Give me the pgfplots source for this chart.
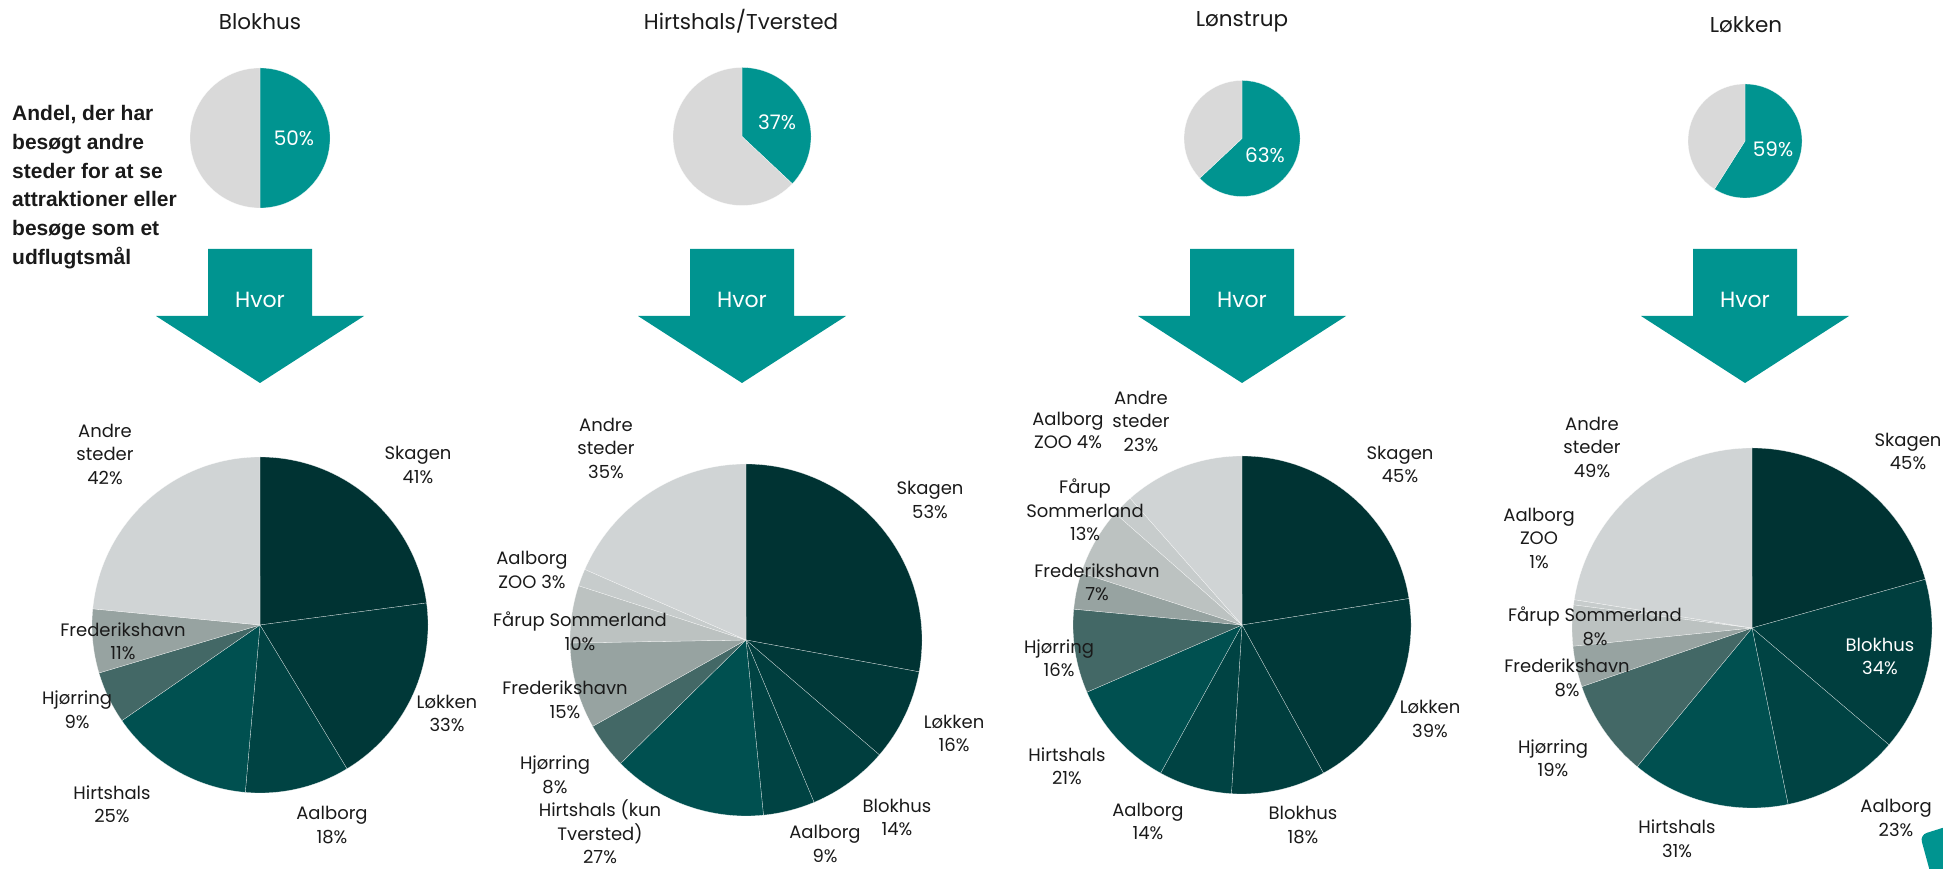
\documentclass[border=0pt]{standalone}
\usepackage{fontspec}
\setmainfont{Poppins}
\newfontfamily\blockfont{Liberation Sans}
\usepackage{pgfplots}
\usepackage{pgfplotstable}
\pgfplotsset{compat=1.18}

\definecolor{tealS}{HTML}{009490}
\definecolor{grayS}{HTML}{D9D9D9}
\definecolor{cSk}{HTML}{003333}
\definecolor{cLk}{HTML}{003838}
\definecolor{cBl}{HTML}{003E3E}
\definecolor{cAa}{HTML}{004343}
\definecolor{cHi}{HTML}{005050}
\definecolor{cHj}{HTML}{436866}
\definecolor{cFr}{HTML}{97A3A1}
\definecolor{cFa}{HTML}{BCC2C1}
\definecolor{cZo}{HTML}{C7CCCC}
\definecolor{cAn}{HTML}{D0D4D5}
\definecolor{txt}{HTML}{1A1A1A}

% small pies: share that has visited other places
\pgfplotstableread{
value color
50 tealS
50 grayS
}\smallBlokhus
\pgfplotstableread{
value color
37 tealS
63 grayS
}\smallHirtshals
\pgfplotstableread{
value color
63 tealS
37 grayS
}\smallLonstrup
\pgfplotstableread{
value color
59 tealS
41 grayS
}\smallLokken

% big pies: where
\pgfplotstableread{
value color
41 cSk
33 cLk
18 cAa
25 cHi
9 cHj
11 cFr
42 cAn
}\bigBlokhus
\pgfplotstableread{
value color
53 cSk
16 cLk
14 cBl
9 cAa
27 cHi
8 cHj
15 cFr
10 cFa
3 cZo
35 cAn
}\bigHirtshals
\pgfplotstableread{
value color
45 cSk
39 cLk
18 cBl
14 cAa
21 cHi
16 cHj
7 cFr
13 cFa
4 cZo
23 cAn
}\bigLonstrup
\pgfplotstableread{
value color
45 cSk
34 cBl
23 cAa
31 cHi
19 cHj
8 cFr
8 cFa
1 cZo
49 cAn
}\bigLokken

\newcommand\drawpie[4]{% #1 table, #2 cx, #3 cy, #4 r
  \pgfplotstablegetrowsof{#1}%
  \pgfmathtruncatemacro\pierows{\pgfplotsretval-1}%
  \gdef\pietotal{0}%
  \foreach \i in {0,...,\pierows}{%
    \pgfplotstablegetelem{\i}{value}\of#1%
    \pgfmathsetmacro\tmpa{\pietotal+\pgfplotsretval}%
    \xdef\pietotal{\tmpa}%
  }%
  \gdef\pieangle{90}%
  \foreach \i in {0,...,\pierows}{%
    \pgfplotstablegetelem{\i}{value}\of#1%
    \pgfmathsetmacro\pieend{\pieangle-360*(\pgfplotsretval/\pietotal)}%
    \pgfplotstablegetelem{\i}{color}\of#1%
    \edef\piecol{\pgfplotsretval}%
    \pgfmathsetmacro\px{#2+#4*cos(\pieangle)}%
    \pgfmathsetmacro\py{#3+#4*sin(\pieangle)}%
    \edef\tmp{\noexpand\fill[fill=\piecol, draw=white, draw opacity=0.7, line width=0.3pt, line join=round] (axis cs:#2,#3) -- (axis cs:\px,\py) arc[start angle=\pieangle, end angle=\pieend, radius=#4pt] -- cycle;}%
    \tmp
    \xdef\pieangle{\pieend}%
  }%
}

\begin{document}
\begin{tikzpicture}[
  lab/.style={font=\fontsize{18}{23.5}\selectfont, align=center, inner sep=0pt, text=txt},
  ttl/.style={font=\fontsize{21.5}{26}\selectfont, inner sep=0pt, text=txt},
  pct/.style={font=\fontsize{20}{24}\selectfont, inner sep=0pt, text=white},
  hvor/.style={font=\fontsize{22}{26}\selectfont, inner sep=0pt, text=white}]
\begin{axis}[name=ax, x=1pt, y=1pt, xmin=0, xmax=1943, ymin=0, ymax=869,
  hide axis, clip=false]

% titles
\node[ttl] at (axis cs:260,847) {Blokhus};
\node[ttl] at (axis cs:741,848) {Hirtshals/Tversted};
\node[ttl] at (axis cs:1242,847) {Lønstrup};
\node[ttl] at (axis cs:1746,844) {Løkken};

% explanatory text
\node[anchor=west, align=left, inner sep=0pt, text=txt, font={\blockfont\bfseries\fontsize{21}{28.7}\selectfont}] at (axis cs:12,682) {Andel, der har\\besøgt andre\\steder for at se\\attraktioner eller\\besøge som et\\udflugtsmål};

% small pies
\drawpie{\smallBlokhus}{260}{731}{70}
\drawpie{\smallHirtshals}{742}{732.5}{69}
\drawpie{\smallLonstrup}{1242}{730.5}{58}
\drawpie{\smallLokken}{1745}{728}{57}
\node[pct] at (axis cs:294,731) {50\%};
\node[pct] at (axis cs:777,747) {37\%};
\node[pct] at (axis cs:1265,714) {63\%};
\node[pct] at (axis cs:1773,720) {59\%};

% arrows
\fill[tealS] (axis cs:208,620) -- (axis cs:312,620) -- (axis cs:312,553) -- (axis cs:364,553) -- (axis cs:260,486) -- (axis cs:156,553) -- (axis cs:208,553) -- cycle;
\fill[tealS] (axis cs:690,620) -- (axis cs:794,620) -- (axis cs:794,553) -- (axis cs:846,553) -- (axis cs:742,486) -- (axis cs:638,553) -- (axis cs:690,553) -- cycle;
\fill[tealS] (axis cs:1190,620) -- (axis cs:1294,620) -- (axis cs:1294,553) -- (axis cs:1346,553) -- (axis cs:1242,486) -- (axis cs:1138,553) -- (axis cs:1190,553) -- cycle;
\fill[tealS] (axis cs:1693,620) -- (axis cs:1797,620) -- (axis cs:1797,553) -- (axis cs:1849,553) -- (axis cs:1745,486) -- (axis cs:1641,553) -- (axis cs:1693,553) -- cycle;
\node[hvor] at (axis cs:260,569) {Hvor};
\node[hvor] at (axis cs:742,569) {Hvor};
\node[hvor] at (axis cs:1242,569) {Hvor};
\node[hvor] at (axis cs:1745,569) {Hvor};

% big pies
\drawpie{\bigBlokhus}{260}{244}{168}
\drawpie{\bigHirtshals}{746}{229}{176}
\drawpie{\bigLonstrup}{1242}{244}{169}
\drawpie{\bigLokken}{1752}{241}{180}

% labels Blokhus
\node[lab] at (axis cs:105,415) {Andre\\steder\\42\%};
\node[lab] at (axis cs:418,404) {Skagen\\41\%};
\node[lab] at (axis cs:447,155.5) {Løkken\\33\%};
\node[lab] at (axis cs:332,44) {Aalborg\\18\%};
\node[lab] at (axis cs:112,64.5) {Hirtshals\\25\%};
\node[lab] at (axis cs:77,159) {Hjørring\\9\%};
\node[lab] at (axis cs:123,227.5) {Frederikshavn\\11\%};

% labels Hirtshals/Tversted
\node[lab] at (axis cs:606,421) {Andre\\steder\\35\%};
\node[lab] at (axis cs:930,369) {Skagen\\53\%};
\node[lab] at (axis cs:954,135.5) {Løkken\\16\%};
\node[lab] at (axis cs:897,51.5) {Blokhus\\14\%};
\node[lab] at (axis cs:825,25) {Aalborg\\9\%};
\node[lab] at (axis cs:600,37) {Hirtshals (kun\\Tversted)\\27\%};
\node[lab] at (axis cs:555,94) {Hjørring\\8\%};
\node[lab] at (axis cs:565,169) {Frederikshavn\\15\%};
\node[lab] at (axis cs:580,237.5) {Fårup Sommerland\\10\%};
\node[lab] at (axis cs:532,299) {Aalborg\\ZOO 3\%};

% labels Lønstrup
\node[lab] at (axis cs:1141,448) {Andre\\steder\\23\%};
\node[lab] at (axis cs:1068,438.5) {Aalborg\\ZOO 4\%};
\node[lab] at (axis cs:1085,359) {Fårup\\Sommerland\\13\%};
\node[lab] at (axis cs:1097,286.5) {Frederikshavn\\7\%};
\node[lab] at (axis cs:1059,210.5) {Hjørring\\16\%};
\node[lab] at (axis cs:1067,102.5) {Hirtshals\\21\%};
\node[lab] at (axis cs:1148,47.5) {Aalborg\\14\%};
\node[lab] at (axis cs:1303,44) {Blokhus\\18\%};
\node[lab] at (axis cs:1430,150) {Løkken\\39\%};
\node[lab] at (axis cs:1400,404.5) {Skagen\\45\%};

% labels Løkken
\node[lab] at (axis cs:1592,422) {Andre\\steder\\49\%};
\node[lab] at (axis cs:1908,417.5) {Skagen\\45\%};
\node[lab] at (axis cs:1539,331) {Aalborg\\ZOO\\1\%};
\node[lab] at (axis cs:1595,242.5) {Fårup Sommerland\\8\%};
\node[lab] at (axis cs:1567,191) {Frederikshavn\\8\%};
\node[lab] at (axis cs:1553,110.5) {Hjørring\\19\%};
\node[lab] at (axis cs:1677,30) {Hirtshals\\31\%};
\node[lab] at (axis cs:1896,51) {Aalborg\\23\%};
\node[lab, text=white] at (axis cs:1880,212.5) {Blokhus\\34\%};

% decorative corner shape
\fill[tealS, rounded corners=7pt] (axis cs:1932,-10) -- (axis cs:1920,34) -- (axis cs:1955,45) -- (axis cs:1955,-10) -- cycle;
\end{axis}
\pgfresetboundingbox
\useasboundingbox (ax.south west) rectangle (ax.north east);
\end{tikzpicture}
\end{document}
